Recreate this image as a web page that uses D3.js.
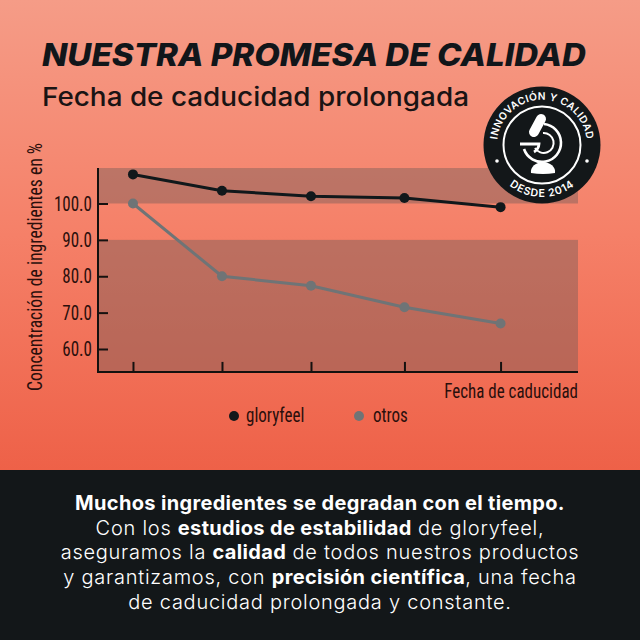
<!DOCTYPE html>
<html>
<head>
<meta charset="utf-8">
<script src="https://cdn.jsdelivr.net/npm/d3@7"></script>
<style>
  html, body { margin: 0; padding: 0; background: #131719; }
  svg { display: block; }
  .narrow { font-family: "Roboto Condensed", Roboto, sans-serif; fill: #2a0f0c; font-size: 20px; }
  .wide { font-family: Inter, "Open Sans", sans-serif; }
</style>
</head>
<body>
<div id="chart"></div>
<script>
const width = 640;
const height = 640;

// reading positions along the shelf life axis, unevenly spaced in the original
const stages = [0, 1, 2, 3.05, 4.13];
const gloryfeel = [108, 103.5, 102, 101.5, 99];
const otros = [100, 80, 77.4, 71.5, 67];
const yTicks = [100, 90, 80, 70, 60];
const bands = [[100, 109.75], [53.7, 90]];
const seriesNames = ['gloryfeel', 'otros'];
const seriesColors = ['#11181b', '#6f7476'];

const bodyLines = [
    [['Muchos ingredientes se degradan con el tiempo.', true]],
    [['Con los ', false], ['estudios de estabilidad', true], [' de gloryfeel,', false]],
    [['aseguramos la ', false], ['calidad', true], [' de todos nuestros productos', false]],
    [['y garantizamos, con ', false], ['precisión científica', true], [', una fecha', false]],
    [['de caducidad prolongada y constante.', false]]
];

const svg = d3.select('#chart').append('svg')
    .attr('width', width)
    .attr('height', height)
    .attr('viewBox', `0 0 ${width} ${height}`);

const defs = svg.append('defs');
const grad = defs.append('linearGradient')
    .attr('id', 'bg')
    .attr('x1', 0).attr('x2', 0).attr('y1', 0).attr('y2', 1);
grad.append('stop').attr('offset', '0%').attr('stop-color', '#f59c87');
grad.append('stop').attr('offset', '50%').attr('stop-color', '#f58068');
grad.append('stop').attr('offset', '100%').attr('stop-color', '#ee6148');

svg.append('rect').attr('width', width).attr('height', 470).attr('fill', 'url(#bg)');
svg.append('rect').attr('y', 470).attr('width', width).attr('height', 170).attr('fill', '#131719');

// squeeze the narrow labels, the original face is taller and tighter
function condense(sel) {
    sel.each(function() {
        this.setAttribute('textLength', this.getComputedTextLength() * 0.85);
        this.setAttribute('lengthAdjust', 'spacingAndGlyphs');
    });
}

// titles
svg.append('text')
    .attr('class', 'wide')
    .attr('x', 42).attr('y', 66)
    .attr('textLength', 544)
    .attr('lengthAdjust', 'spacingAndGlyphs')
    .style('font-size', '31px')
    .style('font-weight', 800)
    .style('font-style', 'italic')
    .style('fill', '#11161a')
    .text('NUESTRA PROMESA DE CALIDAD');

svg.append('text')
    .attr('class', 'wide')
    .attr('x', 42).attr('y', 106)
    .attr('textLength', 427)
    .attr('lengthAdjust', 'spacingAndGlyphs')
    .style('font-size', '26px')
    .style('font-weight', 500)
    .style('fill', '#1a1414')
    .text('Fecha de caducidad prolongada');

// chart
const x = d3.scaleLinear().domain([-0.393, 5]).range([98, 578]);
const y = d3.scaleLinear().domain([60, 100]).range([349, 203.5]);
const yBottom = y(bands[1][0]);

svg.append('g')
    .selectAll('rect')
    .data(bands)
    .join('rect')
    .attr('x', x.range()[0])
    .attr('width', x.range()[1] - x.range()[0])
    .attr('y', d => y(d[1]))
    .attr('height', d => y(d[0]) - y(d[1]))
    .attr('fill', '#6e5a58')
    .attr('fill-opacity', 0.42);

const yAxis = svg.append('g')
    .attr('transform', `translate(${x.range()[0]},0)`)
    .call(d3.axisRight(y).tickValues(yTicks).tickSize(10).tickFormat(''));
yAxis.select('.domain').remove();
yAxis.selectAll('line').attr('stroke', '#14110f').attr('stroke-width', 2);

svg.append('g')
    .selectAll('text')
    .data(yTicks)
    .join('text')
    .attr('class', 'narrow')
    .attr('x', 92)
    .attr('y', d => y(d))
    .attr('dy', '0.36em')
    .attr('text-anchor', 'end')
    .text(d => d3.format('.1f')(d))
    .call(condense);

const xAxis = svg.append('g')
    .attr('transform', `translate(0,${yBottom})`)
    .call(d3.axisTop(x).tickValues(stages).tickSize(10).tickFormat(''));
xAxis.select('.domain').remove();
xAxis.selectAll('line').attr('stroke', '#14110f').attr('stroke-width', 2);

svg.append('path')
    .attr('d', `M${x.range()[0]},${y(bands[0][1])}V${yBottom}H${x.range()[1]}`)
    .attr('fill', 'none')
    .attr('stroke', '#14110f')
    .attr('stroke-width', 2);

const line = d3.line()
    .x((d, i) => x(stages[i]))
    .y(d => y(d));

[otros, gloryfeel].forEach((values, k) => {
    const color = seriesColors[1 - k];
    svg.append('path')
        .datum(values)
        .attr('d', line)
        .attr('fill', 'none')
        .attr('stroke', color)
        .attr('stroke-width', 3);
    svg.append('g')
        .selectAll('circle')
        .data(values)
        .join('circle')
        .attr('cx', (d, i) => x(stages[i]))
        .attr('cy', d => y(d))
        .attr('r', 5)
        .attr('fill', color);
});

// axis titles
svg.append('text')
    .attr('class', 'narrow')
    .attr('transform', 'translate(42,391) rotate(-90)')
    .attr('textLength', 248)
    .attr('lengthAdjust', 'spacingAndGlyphs')
    .text('Concentración de ingredientes en %');

svg.append('text')
    .attr('class', 'narrow')
    .attr('x', 578).attr('y', 398)
    .attr('text-anchor', 'end')
    .text('Fecha de caducidad')
    .call(condense);

// legend
const legendX = d3.scalePoint().domain(seriesNames).range([234, 359]);
const legend = svg.append('g')
    .selectAll('g')
    .data(seriesNames)
    .join('g')
    .attr('transform', d => `translate(${legendX(d)},416)`);
legend.append('circle')
    .attr('r', 5)
    .attr('fill', (d, i) => seriesColors[i]);
legend.append('text')
    .attr('class', 'narrow')
    .attr('x', d => d === 'otros' ? 14 : 12)
    .attr('dy', '0.3em')
    .text(d => d)
    .call(condense);

// badge
const badge = svg.append('g').attr('transform', 'translate(542,145)');
badge.append('circle').attr('r', 58.5).attr('fill', '#131719');
badge.append('circle').attr('r', 38.5).attr('fill', 'none').attr('stroke', '#fff').attr('stroke-width', 2);
defs.append('path').attr('id', 'arcTop').attr('d', 'M-44.8,4A45,45 0 1 1 44.8,4');
defs.append('path').attr('id', 'arcBottom').attr('d', 'M-52,0A52,52 0 0 0 52,0');
const badgeText = (href, txt, size, spacing) => badge.append('text')
    .attr('class', 'wide')
    .style('font-size', size + 'px')
    .style('font-weight', 600)
    .style('letter-spacing', spacing + 'px')
    .style('fill', '#fff')
    .append('textPath')
    .attr('href', href)
    .attr('startOffset', '50%')
    .attr('text-anchor', 'middle')
    .text(txt);
badgeText('#arcTop', 'INNOVACIÓN Y CALIDAD', 10.2, 0.4);
badgeText('#arcBottom', 'DESDE 2014', 10.6, 0.8);
badge.selectAll('.dot')
    .data([-1, 1])
    .join('circle')
    .attr('class', 'dot')
    .attr('cx', d => d * 45)
    .attr('cy', 16)
    .attr('r', 1.8)
    .attr('fill', '#fff');

// microscope
const scope = badge.append('g').attr('fill', 'none').attr('stroke', '#fff');
scope.append('path')
    .attr('d', 'M2,-21A19,19 0 1 1 -18,4')
    .attr('stroke-width', 2.6);
scope.append('path')
    .attr('d', 'M1,-12A10,10 0 1 1 -7,3')
    .attr('stroke-width', 2);
scope.append('path')
    .attr('d', 'M-22,-1H-3A10,10 0 0 1 -8,7')
    .attr('stroke-width', 2.8);
scope.append('path')
    .attr('d', 'M-1,-26L-8,-13')
    .attr('stroke-width', 10)
    .attr('stroke-linecap', 'round');
scope.append('path')
    .attr('d', 'M-11,28C-12,22 -6,17 1,17C8,17 14,22 13,28Q1,30 -11,28Z')
    .attr('stroke', 'none')
    .attr('fill', '#fff');

// bottom text
const body = svg.append('g')
    .selectAll('text')
    .data(bodyLines)
    .join('text')
    .attr('class', 'wide')
    .attr('x', 320)
    .attr('y', (d, i) => 510 + i * 24.7)
    .attr('text-anchor', 'middle')
    .style('font-size', '20px')
    .style('fill', '#fff');
body.selectAll('tspan')
    .data(d => d)
    .join('tspan')
    .style('font-weight', d => d[1] ? 700 : 300)
    .style('letter-spacing', d => d[1] ? '0.33px' : '0.75px')
    .text(d => d[0]);
</script>
</body>
</html>
